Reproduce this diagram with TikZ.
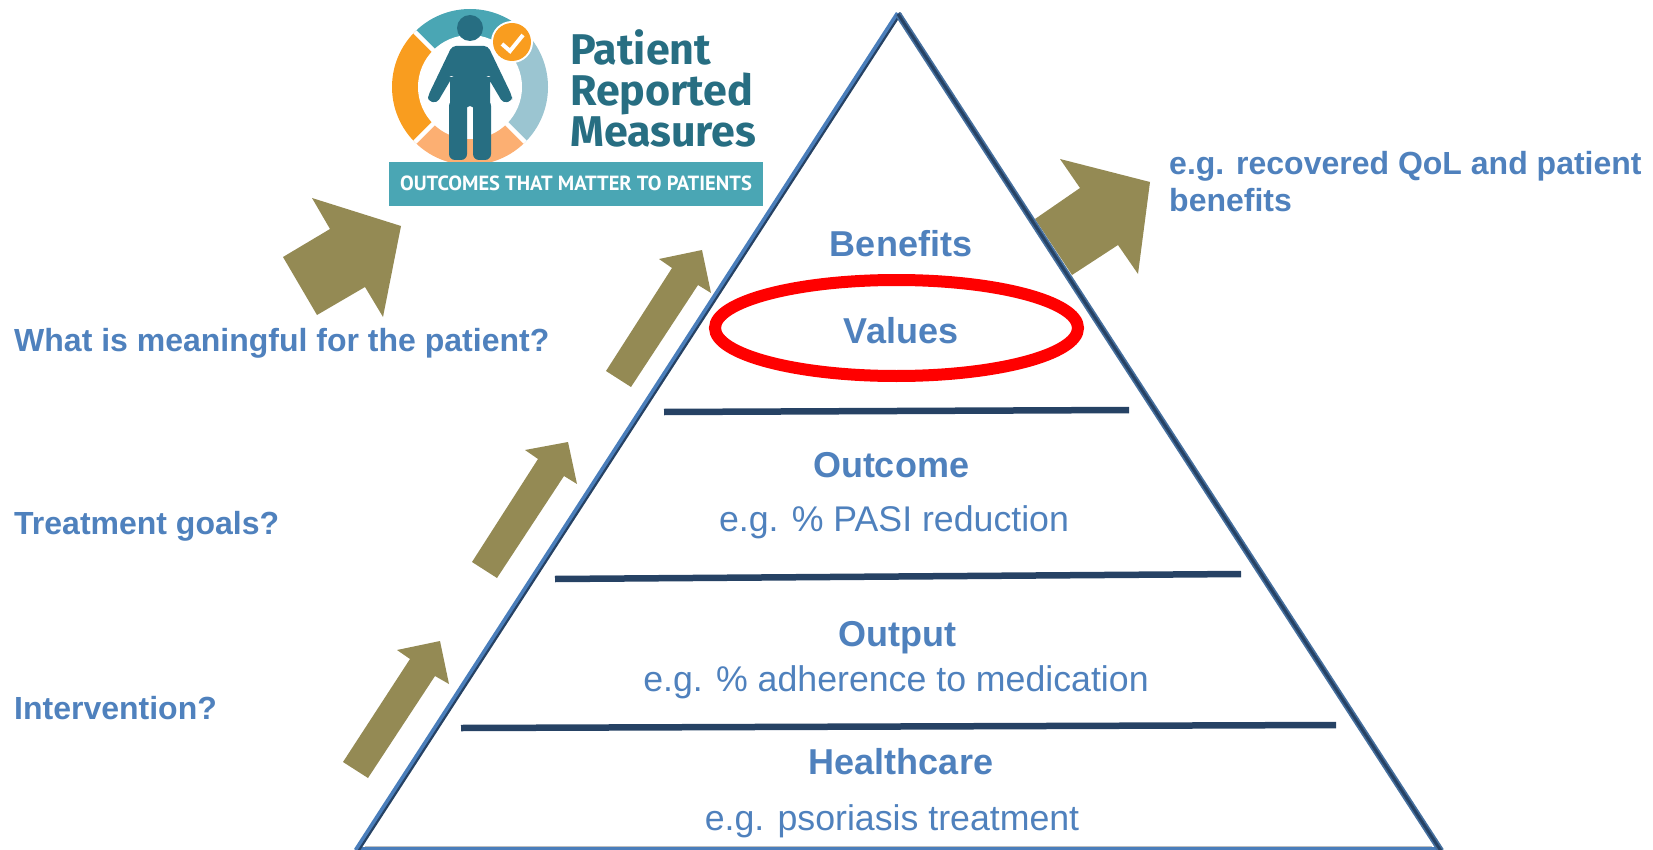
\documentclass[tikz,border=0pt]{standalone}
\usepackage{fontspec}
\setmainfont{Liberation Sans}
\newfontfamily\logofont{PT Sans}
\newfontfamily\titlefont{Fira Sans}
\definecolor{txtblue}{HTML}{4F81BD}
\definecolor{olivea}{HTML}{948A54}
\definecolor{navy}{HTML}{264264}
\definecolor{edgeblue}{HTML}{4A7EBB}
\definecolor{edgemid}{HTML}{46709F}
\definecolor{logoteal}{HTML}{276E82}
\definecolor{ringteal}{HTML}{4AA6B4}
\definecolor{ringlight}{HTML}{9BC5D1}
\definecolor{ringorange}{HTML}{F99D1F}
\definecolor{ringpeach}{HTML}{FCAF72}
\tikzset{
  x=1pt,y=-1pt,
  block/.style={fill=olivea,draw=none},
  lbl/.style={inner sep=0pt,text=txtblue,font=\fontsize{32}{38}\selectfont\bfseries,anchor=base west,align=left},
  headbig/.style={inner sep=0pt,text=txtblue,font=\fontsize{36}{42}\selectfont\bfseries,anchor=base},
  subtxt/.style={inner sep=0pt,text=txtblue,font=\fontsize{35.7}{42}\selectfont,anchor=base},
  tier/.style={draw=navy,line width=6.5pt},
  logotxt/.style={inner sep=0pt,text=logoteal,font=\titlefont\fontsize{43}{43}\selectfont\bfseries,anchor=base west},
}
\begin{document}
\begin{tikzpicture}
\useasboundingbox (0,0) rectangle (1653,850);
% logo ring
\begin{scope}[shift={(470,87)}]
 \begin{scope}
 \clip (0,0) circle (78);
 \fill[ringteal] (0,0) -- (225:120) -- (270:120) -- (315:120) -- cycle;
 \fill[ringlight] (0,0) -- (315:120) -- (0:120) -- (45:120) -- cycle;
 \fill[ringpeach] (0,0) -- (45:120) -- (90:120) -- (135:120) -- cycle;
 \fill[ringorange] (0,0) -- (135:120) -- (180:120) -- (225:120) -- cycle;
 \draw[white,line width=4.5pt] (-80,-80) -- (80,80) (-80,80) -- (80,-80);
 \end{scope}
 \fill[white] (0,0) circle (52);
\end{scope}
% check badge
\fill[white] (512,42) circle (21);
\fill[ringorange] (512,42) circle (19);
\draw[white,line width=4pt] (502,44) -- (510,51) -- (523,35);
% person
\fill[logoteal] (470,28) circle (13);
\fill[logoteal,rounded corners=4pt]
  (452,46) -- (488,46) -- (512,96) -- (512,101) -- (503,103) -- (487,76) -- (490,76)
  -- (490,152) -- (474,160) -- (474,106) -- (466,106) -- (466,160) -- (450,152)
  -- (450,76) -- (453,76) -- (437,103) -- (428,101) -- (428,96) -- cycle;
\fill[logoteal,rounded corners=6pt] (449,100) rectangle (467,160);
\fill[logoteal,rounded corners=6pt] (473,100) rectangle (491,160);
\node[logotxt] (pl1) at (570,65) {Patient};
\node[logotxt] (pl2) at (570,106) {Reported};
\node[logotxt] (pl3) at (570,147) {Measures};
\fill[ringteal] (389,162) rectangle (763,206);
\node[inner sep=0pt,text=white,font=\logofont\fontsize{20.5}{20}\selectfont\bfseries,anchor=base] (banner) at (576,191) {OUTCOMES THAT MATTER TO PATIENTS};
% block arrows
\fill[block] (312,198) -- (401,226) -- (383,317) -- (365,287) -- (317,315) -- (283,257) -- (330,229) -- cycle;
\fill[block] (702,250) -- (711,293) -- (698,285) -- (631,387) -- (606,371) -- (672,268) -- (659,259) -- cycle;
\fill[block] (568,442) -- (577,484) -- (564,476) -- (497,578) -- (472,562) -- (538,459) -- (525,450) -- cycle;
\fill[block] (440,641) -- (449,684) -- (435,676) -- (368,778) -- (343,762) -- (410,659) -- (397,650) -- cycle;
\fill[block] (1150,182) -- (1060,159) -- (1080,188) -- (1035,219) -- (1072,275) -- (1118,245) -- (1138,274) -- cycle;
% triangle
\fill[edgeblue] (358,847) rectangle (1441,850);
\draw[black!25,line width=1pt] (365,846.5) -- (1432,846.5);
% left edge: navy inner band, blue outer band
\draw[navy,line width=3.2pt] (358.5,850) -- (900.5,13);
\draw[edgeblue,line width=3.6pt] (355.5,850) -- (897.5,13);
% right edge: navy core with blue flanks
\draw[edgemid,line width=6.5pt] (1441,851) -- (898,14);
\draw[navy,line width=3pt] (1441,851) -- (898,14);
% tiers
\draw[tier] (664,412) -- (1129,410);
\draw[tier] (555,579) -- (1241,574);
\draw[tier] (461,728) -- (1336,725);
% ellipse
\draw[red,line width=12pt] (896.5,328) ellipse [x radius=181.5,y radius=48];
% text
\node[headbig] (benefits) at (901,256) {Benefits};
\node[headbig] (values) at (901,343) {Values};
\node[headbig] (outcome) at (891,477) {Outcome};
\node[subtxt] (pasi) at (894,531) {e.g. \% PASI reduction};
\node[headbig] (output) at (897,646) {Output};
\node[subtxt] (adher) at (896,691) {e.g. \% adherence to medication};
\node[headbig] (health) at (901,774) {Healthcare};
\node[subtxt] (psor) at (892,830) {e.g. psoriasis treatment};
\node[lbl] (q1) at (14,351.5) {What is meaningful for the patient?};
\node[lbl] (q2) at (14,534) {Treatment goals?};
\node[lbl] (q3) at (14,719) {Intervention?};
\node[lbl] (r1) at (1169,175) {e.g. recovered QoL and patient};
\node[lbl] (r2) at (1169,212) {benefits};
\end{tikzpicture}
\end{document}
